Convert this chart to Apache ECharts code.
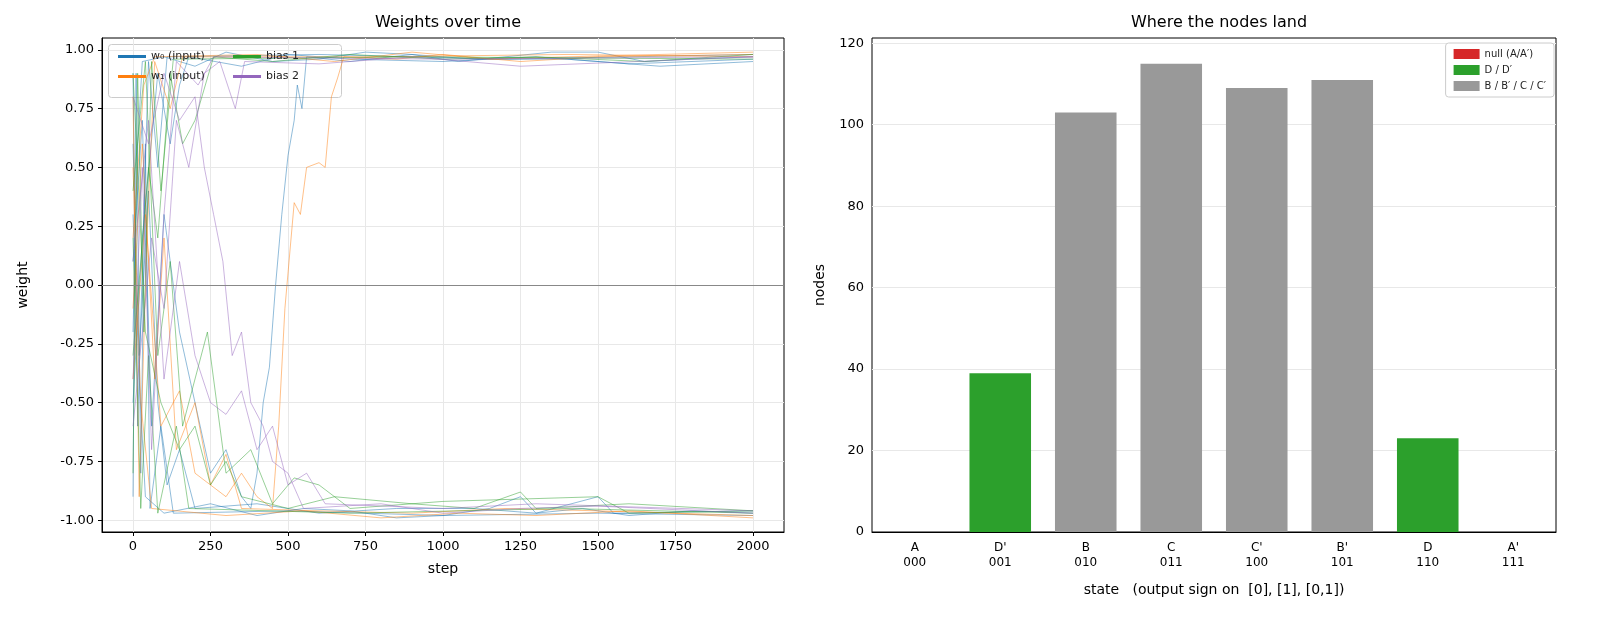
<!DOCTYPE html>
<html>
<head>
<meta charset="utf-8">
<script src="https://cdn.jsdelivr.net/npm/echarts@6/dist/echarts.min.js"></script>
<style>
  html, body { margin: 0; padding: 0; background: #fff; }
  #main { width: 1611px; height: 630px; }
</style>
</head>
<body>
<div id="main"></div>
<script>
// weight traces, [step, weight] pairs
var w0Traces = [
  [[0,-0.2],[15,0.6],[30,0.95],[100,0.97],[200,0.93],[300,0.99],[450,0.95],[600,0.96],[750,0.99],[900,0.98],[1050,0.95],[1200,0.97],[1350,0.99],[1500,0.99],[1650,0.95],[1800,0.96],[2000,0.97]],
  [[0,0.3],[20,-0.4],[40,-0.9],[100,-0.97],[250,-0.93],[400,-0.98],[550,-0.95],[700,-0.96],[850,-0.99],[1000,-0.98],[1150,-0.95],[1250,-0.9],[1300,-0.97],[1450,-0.95],[1600,-0.98],[1800,-0.96],[2000,-0.97]],
  [[0,0.1],[30,0.7],[60,-0.6],[100,0.3],[150,-0.2],[200,-0.5],[250,-0.8],[300,-0.7],[350,-0.9],[380,-0.95],[400,-0.8],[420,-0.5],[440,-0.35],[460,0.0],[480,0.3],[500,0.55],[520,0.7],[530,0.85],[545,0.75],[560,0.97],[700,0.95],[900,0.98],[1100,0.96],[1400,0.96],[1700,0.93],[2000,0.95]],
  [[0,-0.5],[30,0.2],[80,0.9],[120,0.6],[150,0.85],[180,0.97],[350,0.93],[500,0.98],[700,0.96],[1000,0.95],[1300,0.97],[1600,0.94],[2000,0.96]],
  [[0,0.6],[20,-0.3],[50,0.4],[80,-0.5],[110,-0.85],[150,-0.7],[200,-0.95],[400,-0.93],[600,-0.97],[850,-0.95],[1100,-0.95],[1300,-0.97],[1500,-0.9],[1550,-0.97],[2000,-0.96]],
  [[0,-0.9],[10,0.9],[25,-0.8],[40,0.6],[55,-0.95],[90,-0.6],[130,-0.97],[500,-0.96],[1000,-0.98],[1500,-0.97],[2000,-0.98]],
  [[0,0.9],[15,-0.6],[35,0.3],[50,0.95],[80,0.5],[110,0.97],[600,0.98],[1200,0.96],[2000,0.98]]
];
var w1Traces = [
  [[0,0.5],[25,-0.5],[60,-0.95],[300,-0.98],[550,-0.96],[800,-0.99],[1050,-0.97],[1300,-0.98],[1600,-0.96],[2000,-0.99]],
  [[0,-0.4],[40,0.3],[90,-0.6],[150,-0.45],[200,-0.8],[300,-0.9],[350,-0.8],[400,-0.9],[450,-0.95],[470,-0.6],[490,-0.1],[520,0.35],[540,0.3],[560,0.5],[600,0.52],[620,0.5],[640,0.8],[660,0.88],[680,0.97],[850,0.96],[1000,0.98],[1250,0.95],[1500,0.97],[2000,0.98]],
  [[0,0.2],[35,0.85],[70,0.97],[400,0.98],[650,0.95],[900,0.99],[1150,0.96],[1400,0.97],[1700,0.98],[2000,0.99]],
  [[0,-0.1],[30,0.6],[70,-0.4],[100,0.2],[140,-0.7],[200,-0.5],[250,-0.85],[300,-0.72],[350,-0.95],[600,-0.96],[900,-0.97],[1200,-0.95],[1500,-0.96],[2000,-0.98]],
  [[0,0.8],[20,-0.9],[45,0.2],[70,0.95],[120,0.75],[160,0.97],[800,0.97],[1400,0.98],[2000,0.97]]
];
var bias1Traces = [
  [[0,0.9],[40,-0.2],[90,-0.5],[150,-0.7],[200,-0.6],[250,-0.85],[300,-0.75],[350,-0.9],[500,-0.95],[650,-0.9],[900,-0.93],[1100,-0.95],[1250,-0.88],[1300,-0.95],[1600,-0.93],[2000,-0.96]],
  [[0,-0.3],[50,0.5],[80,0.2],[120,0.9],[160,0.6],[200,0.7],[260,0.97],[450,0.95],[700,0.98],[1000,0.96],[1300,0.97],[1650,0.95],[2000,0.98]],
  [[0,0.4],[40,0.95],[80,-0.3],[120,0.1],[160,-0.6],[240,-0.2],[270,-0.5],[300,-0.8],[380,-0.7],[450,-0.93],[520,-0.82],[600,-0.85],[700,-0.95],[1000,-0.92],[1500,-0.9],[1600,-0.97],[2000,-0.96]],
  [[0,-0.8],[15,0.9],[35,-0.2],[60,0.95],[90,0.4],[130,0.96],[900,0.97],[2000,0.96]],
  [[0,0.2],[25,-0.95],[50,-0.3],[80,-0.97],[140,-0.6],[180,-0.95],[700,-0.97],[1400,-0.95],[2000,-0.97]]
];
var bias2Traces = [
  [[0,0.8],[50,0.6],[100,0.9],[150,0.7],[200,0.8],[230,0.5],[260,0.3],[290,0.1],[320,-0.3],[350,-0.2],[380,-0.5],[420,-0.6],[450,-0.75],[500,-0.8],[550,-0.95],[800,-0.93],[1000,-0.97],[1250,-0.95],[1500,-0.94],[2000,-0.97]],
  [[0,-0.6],[60,0.2],[100,-0.1],[140,0.7],[180,0.5],[230,0.9],[280,0.95],[330,0.75],[360,0.95],[600,0.94],[900,0.97],[1250,0.93],[2000,0.97]],
  [[0,0.1],[50,0.7],[100,-0.4],[150,0.1],[200,-0.3],[250,-0.5],[300,-0.55],[350,-0.45],[400,-0.7],[450,-0.6],[500,-0.85],[560,-0.8],[620,-0.93],[1000,-0.95],[1300,-0.93],[2000,-0.96]],
  [[0,-0.4],[30,0.5],[60,-0.7],[100,0.3],[140,0.95],[210,0.85],[260,0.97],[1000,0.96],[2000,0.97]]
];

// final-state histogram
var stateNames = ['A\n000', "D'\n001", 'B\n010', 'C\n011', "C'\n100", "B'\n101", 'D\n110', "A'\n111"];
var nullCounts = [0, '-', '-', '-', '-', '-', '-', 0];
var dCounts = ['-', 39, '-', '-', '-', '-', 23, '-'];
var bcCounts = ['-', '-', 103, 115, 109, 111, '-', '-'];

var stepTicks = [0, 250, 500, 750, 1000, 1250, 1500, 1750, 2000];
var weightTicks = [-1, -0.75, -0.5, -0.25, 0, 0.25, 0.5, 0.75, 1];
var nodeTicks = [0, 20, 40, 60, 80, 100, 120];

var blue = '#1f77b4', orange = '#ff7f0e', green = '#2ca02c', purple = '#9467bd';
var font = 'DejaVu Sans';

var chart = echarts.init(document.getElementById('main'));

var series = [];
function addTraces(list, name, color) {
  list.forEach(function (t) {
    series.push({
      name: name, type: 'line', data: t, showSymbol: false, symbol: 'none',
      xAxisIndex: 0, yAxisIndex: 0, color: color,
      lineStyle: { width: 0.9, opacity: 0.55 }, silent: true
    });
  });
}
addTraces(w0Traces, 'w₀ (input)', blue);
addTraces(w1Traces, 'w₁ (input)', orange);
addTraces(bias1Traces, 'bias 1', green);
addTraces(bias2Traces, 'bias 2', purple);
series[0].markLine = {
  symbol: 'none', silent: true, label: { show: false },
  lineStyle: { color: '#888', width: 1, type: 'solid' },
  data: [{ yAxis: 0 }]
};

function bar(name, data, color) {
  series.push({
    name: name, type: 'bar', data: data, stack: 's', barWidth: '72%',
    xAxisIndex: 1, yAxisIndex: 1, color: color
  });
}
bar('null (A/A′)', nullCounts, '#d62728');
bar('D / D′', dCounts, green);
bar('B / B′ / C / C′', bcCounts, '#999999');

var legendBase = {
  orient: 'vertical', itemWidth: 28, itemHeight: 3, itemGap: 9,
  icon: 'rect',
  textStyle: { fontFamily: font, fontSize: 11, color: '#222' },
  borderWidth: 0, backgroundColor: 'transparent', padding: [6, 8]
};

var axisCommon = {
  axisLine: { onZero: false, lineStyle: { color: '#000' } },
  axisTick: { lineStyle: { color: '#000' }, length: 4 },
  axisLabel: { color: '#000', fontFamily: font, fontSize: 13 },
  nameTextStyle: { color: '#000', fontFamily: font, fontSize: 14 },
  splitLine: { show: true, lineStyle: { color: '#e8e8e8' } }
};
function ax(extra) { return Object.assign({}, axisCommon, extra); }

chart.setOption({
  animation: false,
  title: [
    { text: 'Weights over time', left: 443, top: 10, textAlign: 'center',
      textStyle: { fontFamily: font, fontSize: 16, fontWeight: 'normal', color: '#000' } },
    { text: 'Where the nodes land', left: 1214, top: 10, textAlign: 'center',
      textStyle: { fontFamily: font, fontSize: 16, fontWeight: 'normal', color: '#000' } }
  ],
  legend: [
    Object.assign({}, legendBase, { data: ['w₀ (input)', 'w₁ (input)'], left: 110, top: 45 }),
    Object.assign({}, legendBase, { data: ['bias 1', 'bias 2'], left: 225, top: 45 }),
    Object.assign({}, legendBase, { data: ['null (A/A′)', 'D / D′', 'B / B′ / C / C′'],
      right: 57, top: 43, itemWidth: 26, itemHeight: 10, itemGap: 6,
      backgroundColor: 'rgba(255,255,255,0.85)', borderColor: '#ccc', borderWidth: 1, borderRadius: 3,
      textStyle: { fontFamily: font, fontSize: 10, color: '#222' } })
  ],
  graphic: [{
    type: 'rect', left: 108, top: 44, silent: true, z: 0,
    shape: { width: 233, height: 53, r: 3 },
    style: { fill: 'rgba(255,255,255,0.85)', stroke: '#ccc', lineWidth: 1 }
  }],
  grid: [
    { left: 102, top: 38, width: 682, height: 494, show: true, borderColor: '#000', borderWidth: 1 },
    { left: 872, top: 38, width: 684, height: 494, show: true, borderColor: '#000', borderWidth: 1 }
  ],
  xAxis: [
    ax({ type: 'value', gridIndex: 0, min: -100, max: 2100,
      name: 'step', nameLocation: 'middle', nameGap: 30,
      axisLabel: Object.assign({}, axisCommon.axisLabel, {
        customValues: stepTicks, formatter: function (v) { return String(v); } }),
      axisTick: { customValues: stepTicks, lineStyle: { color: '#000' }, length: 4 } }),
    ax({ type: 'category', gridIndex: 1, data: stateNames,
      name: 'state   (output sign on  [0], [1], [0,1])', nameLocation: 'middle', nameGap: 51,
      axisTick: { alignWithLabel: true, lineStyle: { color: '#000' }, length: 4 },
      axisLabel: Object.assign({}, axisCommon.axisLabel, { fontSize: 12, lineHeight: 15 }),
      splitLine: { show: false } })
  ],
  yAxis: [
    ax({ type: 'value', gridIndex: 0, min: -1.05, max: 1.05,
      name: 'weight', nameLocation: 'middle', nameGap: 72,
      axisLabel: Object.assign({}, axisCommon.axisLabel, {
        customValues: weightTicks, formatter: function (v) { return v.toFixed(2); } }),
      axisTick: { customValues: weightTicks, lineStyle: { color: '#000' }, length: 4 } }),
    ax({ type: 'value', gridIndex: 1, min: 0, max: 121.3,
      name: 'nodes', nameLocation: 'middle', nameGap: 45,
      axisLabel: Object.assign({}, axisCommon.axisLabel, { customValues: nodeTicks }),
      axisTick: { customValues: nodeTicks, lineStyle: { color: '#000' }, length: 4 } })
  ],
  series: series
});
</script>
</body>
</html>
